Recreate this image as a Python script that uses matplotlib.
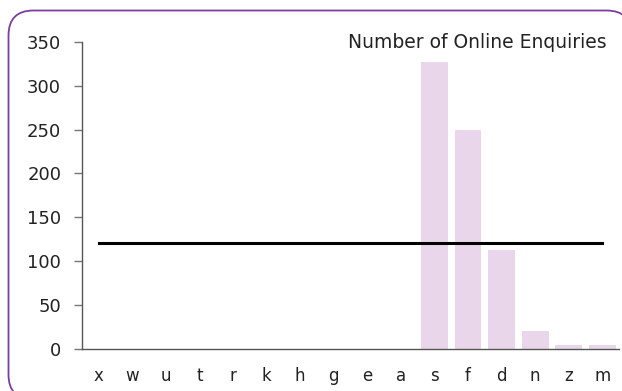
import matplotlib
matplotlib.use("Agg")
import matplotlib.pyplot as plt
from matplotlib.patches import FancyBboxPatch

categories = ["x", "w", "u", "t", "r", "k", "h", "g", "e", "a", "s", "f", "d", "n", "z", "m"]
enquiries = [0, 0, 0, 0, 0, 0, 0, 0, 0, 0, 327, 250, 112, 20, 4, 4]
target = [120] * len(categories)
title = "Number of Online Enquiries"

plt.rcParams["font.family"] = ["DejaVu Sans"]

W, H = 622, 391
fig = plt.figure(figsize=(W / 100, H / 100), dpi=100)

# background layer in pixel units for the rounded purple frame
bg = fig.add_axes([0, 0, 1, 1], zorder=0)
bg.set_xlim(0, W)
bg.set_ylim(H, 0)
bg.axis("off")
# a filled face keeps the curved corners intact where the frame runs off the canvas
frame = FancyBboxPatch((8.5, 10.5), 623, 389,
                       boxstyle="round,pad=0,rounding_size=25",
                       facecolor="white", edgecolor="#7a3e9d", linewidth=1.3,
                       clip_on=False)
bg.add_patch(frame)

ax = fig.add_axes([82 / W, 1 - 348.5 / H, (619 - 82) / W, (348.5 - 42) / H], zorder=1)
ax.patch.set_alpha(0)
xpos = list(range(len(categories)))
ax.bar(xpos, enquiries, width=0.8, color="#e9d6ea", zorder=1)
ax.plot(xpos, target, color="black", linewidth=2.2, zorder=2)

ax.set_xlim(-0.5, len(categories) - 0.5)
ax.set_ylim(0, 350)
ax.set_yticks(range(0, 351, 50))
ax.set_xticks(xpos)
ax.set_xticklabels(categories)

for side in ("top", "right"):
    ax.spines[side].set_visible(False)
for side in ("left", "bottom"):
    ax.spines[side].set_color("#555555")
    ax.spines[side].set_linewidth(1.0)

ax.tick_params(axis="y", length=6, width=1, color="#777777", labelsize=13,
               labelcolor="#222222", pad=9)
ax.tick_params(axis="x", length=0, labelsize=12, labelcolor="#222222", pad=13)

fig.text(607 / W, 1 - 42 / H, title, ha="right", va="center",
         fontsize=13.5, color="#222222")

fig.savefig("out.png", dpi=100)
